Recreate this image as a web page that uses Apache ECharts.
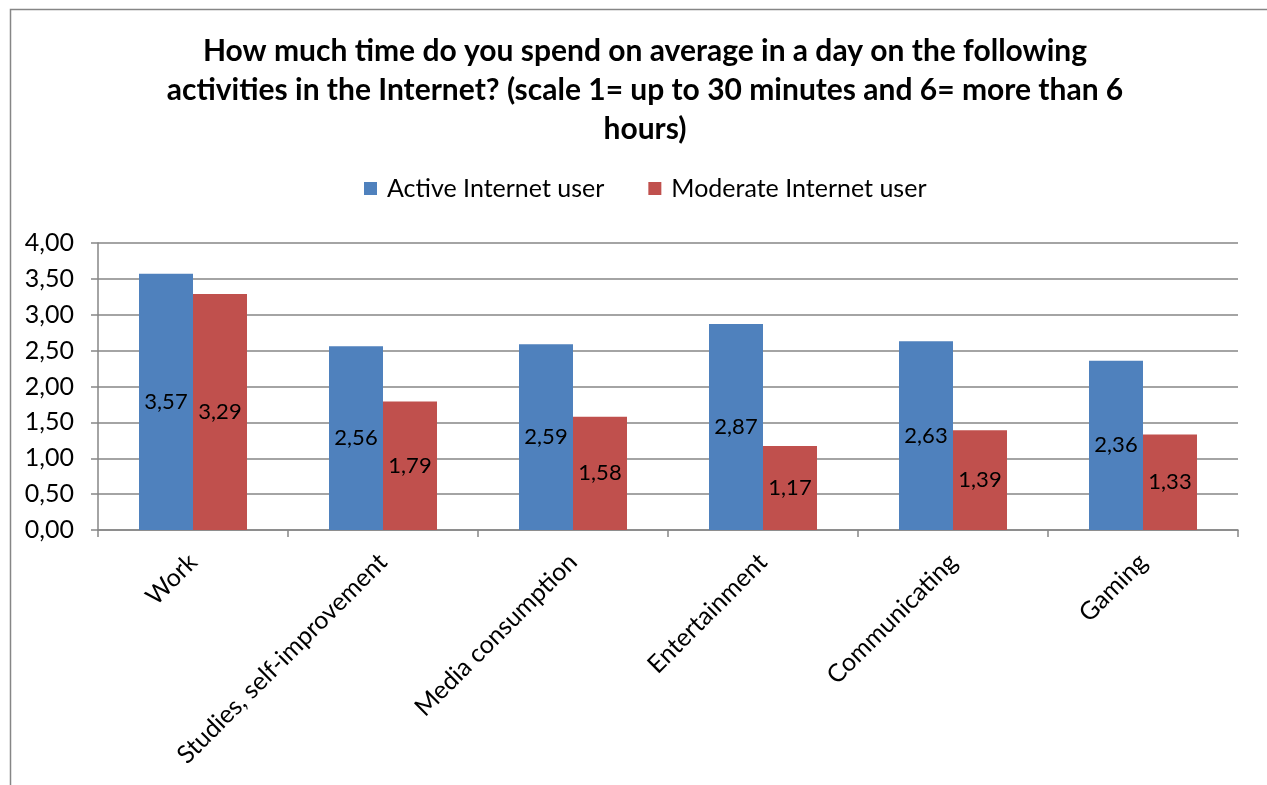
<!DOCTYPE html>
<html>
<head>
<meta charset="utf-8">
<script src="https://cdn.jsdelivr.net/npm/echarts@6/dist/echarts.min.js"></script>
<style>
  html, body { margin: 0; padding: 0; background: #fff; }
  #chart { width: 1267px; height: 785px; }
</style>
</head>
<body>
<div id="chart"></div>
<script>
// Survey: average daily time spent on Internet activities (scale 1-6)
const categories = ['Work', 'Studies, self-improvement', 'Media consumption', 'Entertainment', 'Communicating', 'Gaming'];
const activeUser = [3.57, 2.56, 2.59, 2.87, 2.63, 2.36];
const moderateUser = [3.29, 1.79, 1.58, 1.17, 1.39, 1.33];
const seriesNames = ['Active Internet user', 'Moderate Internet user'];
const titleText = 'How much time do you spend on average in a day on the following\nactivities in the Internet? (scale 1= up to 30 minutes and 6= more than 6\nhours)';

const FONT = 'Lato';
const GRAY = '#868686';
const comma = v => v.toFixed(2).replace('.', ',');

const chart = echarts.init(document.getElementById('chart'), null, { renderer: 'canvas' });

const barLabel = {
  show: true,
  position: 'inside',
  color: '#000',
  fontFamily: FONT,
  fontSize: 22,
  formatter: p => comma(p.value)
};

chart.setOption({
  animation: false,
  backgroundColor: '#fff',
  textStyle: { fontFamily: FONT },
  graphic: [{
    type: 'rect',
    shape: { x: 10.5, y: 9.5, width: 1300, height: 800 },
    style: { fill: 'none', stroke: GRAY, lineWidth: 1.5 },
    silent: true
  }],
  title: {
    text: titleText,
    left: 640,
    top: 27,
    textAlign: 'center',
    textStyle: {
      fontFamily: FONT,
      fontWeight: 'bold',
      fontSize: 30,
      lineHeight: 39,
      color: '#000',
      align: 'center'
    }
  },
  legend: {
    top: 171,
    left: 359,
    icon: 'rect',
    itemWidth: 13,
    itemHeight: 13,
    itemGap: 44,
    textStyle: { fontFamily: FONT, fontSize: 25, color: '#000', padding: [0, 0, 0, 5] },
    data: seriesNames
  },
  grid: { left: 98, right: 29, top: 243, bottom: 255 },
  xAxis: {
    type: 'category',
    data: categories,
    axisLine: { lineStyle: { color: GRAY, width: 1.5 } },
    axisTick: { show: true, length: 7, lineStyle: { color: GRAY, width: 1.5 } },
    axisLabel: {
      interval: 0,
      rotate: 45,
      margin: 28,
      color: '#000',
      fontFamily: FONT,
      fontSize: 25
    }
  },
  yAxis: {
    type: 'value',
    min: 0,
    max: 4,
    interval: 0.5,
    axisLine: { show: true, lineStyle: { color: GRAY, width: 1.5 } },
    axisTick: { show: true, length: 7, lineStyle: { color: GRAY, width: 1.5 } },
    splitLine: { lineStyle: { color: GRAY, width: 1.5 } },
    axisLabel: {
      margin: 24,
      color: '#000',
      fontFamily: FONT,
      fontSize: 25,
      formatter: v => comma(v)
    }
  },
  series: [
    {
      name: seriesNames[0],
      type: 'bar',
      data: activeUser,
      barWidth: 54,
      barGap: '0%',
      itemStyle: { color: '#4F81BD' },
      label: barLabel
    },
    {
      name: seriesNames[1],
      type: 'bar',
      data: moderateUser,
      barWidth: 54,
      itemStyle: { color: '#C0504D' },
      label: barLabel
    }
  ]
});
</script>
</body>
</html>
